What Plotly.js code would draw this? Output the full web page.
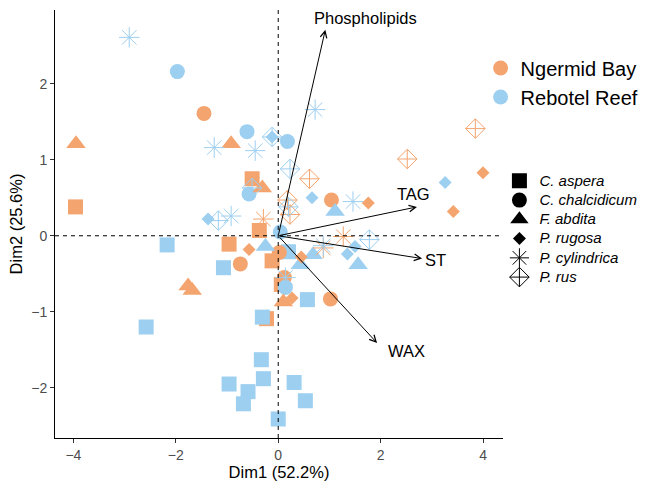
<!DOCTYPE html>
<html>
<head>
<meta charset="utf-8">
<script src="https://cdn.plot.ly/plotly-3.0.1.min.js"></script>
<style>html,body{margin:0;padding:0;background:#fff;}#chart{width:656px;height:481px;}</style>
</head>
<body>
<div id="chart"></div>
<script>
// Site colours / names
const siteNames = ['Ngermid Bay', 'Rebotel Reef'];
const siteColors = ['#F4A46E', '#9DCFF0'];
const speciesNames = ['C. aspera', 'C. chalcidicum', 'F. abdita', 'P. rugosa', 'P. cylindrica', 'P. rus'];

// Ngermid Bay (orange)
const NB_aspera_x = [-3.96, -0.51, -0.37, -0.96, -0.12, 0.06, -0.23];
const NB_aspera_y = [0.38, 0.75, 0.07, -0.11, -0.33, -0.64, -1.09];
const NB_chalc_x = [-1.45, 1.04, -0.74, 0.02, 0.12, 1.02];
const NB_chalc_y = [1.61, 0.47, -0.37, -0.22, -0.55, -0.83];
const NB_abdita_x = [-3.95, -0.92, -0.31, -1.76, -1.68, 0.10];
const NB_abdita_y = [1.21, 1.21, 0.63, -0.66, -0.72, -0.87];
const NB_rugosa_x = [4.00, 3.42, 1.76, -0.57, 0.45, 0.27];
const NB_rugosa_y = [0.83, 0.32, 0.43, -0.18, -0.28, -0.82];
const NB_cyl_x = [-0.29, 1.27, 0.88];
const NB_cyl_y = [0.22, -0.01, -0.16];
const NB_rus_x = [3.85, 2.52, 0.61, 0.18, 0.23];
const NB_rus_y = [1.41, 1.01, 0.75, 0.47, 0.28];

// Rebotel Reef (blue)
const RR_aspera_x = [-2.17, -1.07, 0.20, -2.58, -0.31, 0.57, -0.33, -0.29, -0.96, -0.59, -0.68, 0.31, 0.53, 0.00];
const RR_aspera_y = [-0.12, -0.42, -0.21, -1.20, -1.07, -0.84, -1.63, -1.88, -1.95, -2.05, -2.21, -1.93, -2.17, -2.41];
const RR_chalc_x = [-1.97, -0.61, 0.18, -0.57, 0.04, 0.14];
const RR_chalc_y = [2.16, 1.37, 1.24, 0.55, 0.05, -0.68];
const RR_abdita_x = [1.11, -0.25, 0.68, 0.43, 1.56];
const RR_abdita_y = [0.32, -0.14, -0.25, -0.38, -0.38];
const RR_rugosa_x = [-0.12, -1.37, 0.66, 3.26, 1.50, 1.35];
const RR_rugosa_y = [1.30, 0.22, 0.50, 0.70, -0.14, -0.24];
const RR_cyl_x = [-2.91, 0.72, -1.25, -0.45, -0.92, 1.46, 0.88, 0.14];
const RR_cyl_y = [2.61, 1.66, 1.16, 1.12, 0.26, 0.45, -0.13, -0.55];
const RR_rus_x = [-0.12, -0.51, -1.17, 0.23, 0.20, 1.78];
const RR_rus_y = [1.30, 0.63, 0.20, 0.88, 0.38, -0.05];

// Loading vectors
const varNames = ['Phospholipids', 'TAG', 'ST', 'WAX'];
const varX = [0.92, 2.71, 2.81, 1.93];
const varY = [2.71, 0.38, -0.30, -1.41];
const varLabelX = [1.70, 2.64, 3.07, 2.50];
const varLabelY = [2.86, 0.55, -0.32, -1.51];

const symbols = ['square', 'circle', 'triangle-up', 'diamond', 'asterisk-open', 'diamond-cross-open'];
const sizes = [15, 15, 17, 10, 17, 15];

const groups = [
  [[NB_aspera_x, NB_aspera_y], [NB_chalc_x, NB_chalc_y], [NB_abdita_x, NB_abdita_y], [NB_rugosa_x, NB_rugosa_y], [NB_cyl_x, NB_cyl_y], [NB_rus_x, NB_rus_y]],
  [[RR_aspera_x, RR_aspera_y], [RR_chalc_x, RR_chalc_y], [RR_abdita_x, RR_abdita_y], [RR_rugosa_x, RR_rugosa_y], [RR_cyl_x, RR_cyl_y], [RR_rus_x, RR_rus_y]]
];

const traces = [];
const order = [[0,0],[1,0],[0,1],[1,1],[0,2],[1,2],[0,3],[1,3],[0,4],[1,4],[0,5],[1,5]];
order.forEach(([s, k]) => {
  const g = groups[s][k];
  traces.push({
    type: 'scatter', mode: 'markers', x: g[0], y: g[1],
    showlegend: false, hoverinfo: 'skip',
    marker: {symbol: symbols[k], size: sizes[k], color: siteColors[s],
             line: {width: symbols[k].endsWith('open') ? 1 : 0, color: siteColors[s]}}
  });
});

// Site legend
siteNames.forEach((n, s) => {
  traces.push({type: 'scatter', mode: 'markers', x: [null], y: [null], name: n,
    legend: 'legend', marker: {symbol: 'circle', size: 15, color: siteColors[s]}});
});
// Species legend
speciesNames.forEach((n, k) => {
  traces.push({type: 'scatter', mode: 'markers', x: [null], y: [null],
    name: '<span style="font-size:15px"><i>' + n + '</i></span>',
    legend: 'legend2',
    marker: {symbol: symbols[k], size: sizes[k], color: '#000',
             line: {width: symbols[k].endsWith('open') ? 1 : 0, color: '#000'}}});
});

const annotations = [];
varNames.forEach((n, i) => {
  annotations.push({x: varX[i], y: varY[i], ax: 0, ay: 0, axref: 'x', ayref: 'y', xref: 'x', yref: 'y',
    text: '', showarrow: true, arrowhead: 5, arrowsize: 1.3, arrowwidth: 1, arrowcolor: '#000'});
  annotations.push({x: varLabelX[i], y: varLabelY[i], xref: 'x', yref: 'y', text: n, showarrow: false,
    font: {size: 16.5, color: '#000'}});
});

const layout = {
  width: 656, height: 481,
  margin: {l: 55, r: 153, t: 10, b: 43},
  paper_bgcolor: '#fff', plot_bgcolor: '#fff',
  font: {family: '"Liberation Sans", Arial, sans-serif', color: '#000'},
  xaxis: {range: [-4.36, 4.39], tickvals: [-4, -2, 0, 2, 4], ticktext: ['−4', '−2', '0', '2', '4'],
    showgrid: false, zeroline: false, showline: true, linecolor: '#000', linewidth: 1,
    ticks: 'outside', ticklen: 4, tickcolor: '#333', tickfont: {size: 14, color: '#4D4D4D'},
    title: {text: 'Dim1 (52.2%)', font: {size: 16.5, color: '#000'}, standoff: 0}},
  yaxis: {range: [-2.66, 2.97], tickvals: [-2, -1, 0, 1, 2], ticktext: ['−2', '−1', '0', '1', '2'],
    showgrid: false, zeroline: false, showline: true, linecolor: '#000', linewidth: 1,
    ticks: 'outside', ticklen: 4, tickcolor: '#333', tickfont: {size: 14, color: '#4D4D4D'},
    title: {text: 'Dim2 (25.6%)', font: {size: 16.5, color: '#000'}, standoff: 4}},
  shapes: [
    {type: 'line', xref: 'x', yref: 'paper', x0: 0, x1: 0, y0: 0, y1: 1, line: {color: '#000', width: 1, dash: '4px,4px'}},
    {type: 'line', xref: 'paper', yref: 'y', x0: 0, x1: 1, y0: 0, y1: 0, line: {color: '#000', width: 1, dash: '4px,4px'}}
  ],
  annotations: annotations,
  legend: {x: 0.95, y: 0.91, xanchor: 'left', yanchor: 'top', bgcolor: 'rgba(0,0,0,0)',
    font: {size: 20, color: '#000'}, itemwidth: 30, tracegroupgap: 0},
  legend2: {x: 0.992, y: 0.635, xanchor: 'left', yanchor: 'top', bgcolor: 'rgba(0,0,0,0)',
    font: {size: 12.5, color: '#000'}, itemwidth: 30, tracegroupgap: 0}
};

Plotly.newPlot('chart', traces, layout, {displayModeBar: false, staticPlot: true});
</script>
</body>
</html>
